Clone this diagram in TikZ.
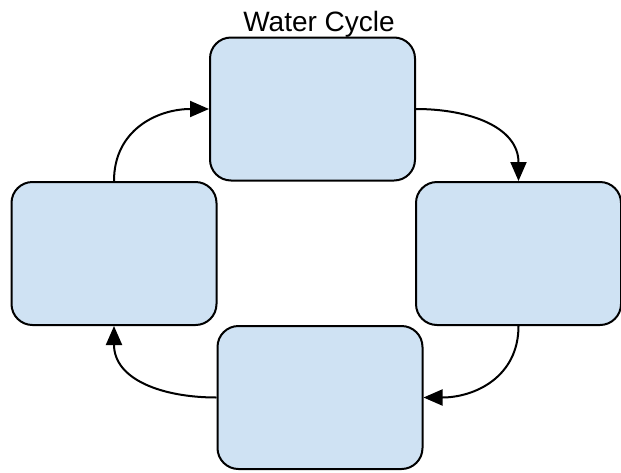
\documentclass[tikz,border=0pt]{standalone}
\usepackage{fontspec}
\setmainfont{Liberation Sans}
\usetikzlibrary{arrows.meta}
\definecolor{boxfill}{HTML}{CFE2F3}
\begin{document}
\begin{tikzpicture}[x=1pt,y=-1pt,
  stage/.style={draw=black, line width=2pt, fill=boxfill, rounded corners=21pt,
    minimum width=205pt, minimum height=143pt, inner sep=0pt},
  flow/.style={line width=2pt, -{Triangle[length=19pt,width=16pt]}}]
\useasboundingbox (0,0) rectangle (621,472);
\node[font=\fontsize{28}{31}\selectfont, anchor=base] (title) at (319,31) {Water Cycle};
\node[stage] (top) at (312.5,109) {};
\node[stage] (left) at (114,253.5) {};
\node[stage] (right) at (518.5,253.5) {};
\node[stage] (bottom) at (320,397.5) {};
\draw[flow] (left.north) to[out=90,in=180,looseness=1.1] (top.west);
\draw[flow] (top.east) to[out=0,in=90,looseness=1.1] (right.north);
\draw[flow] (right.south) to[out=-90,in=0,looseness=1.1] (bottom.east);
\draw[flow] (bottom.west) to[out=180,in=-90,looseness=1.1] (left.south);
\end{tikzpicture}
\end{document}
